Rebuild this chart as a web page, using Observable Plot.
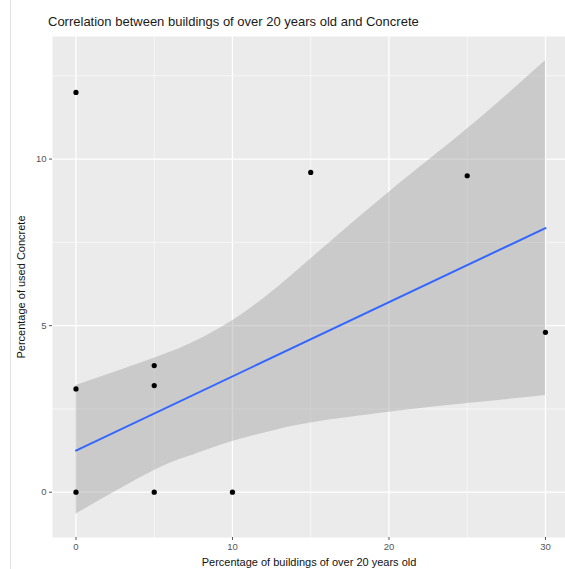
<!DOCTYPE html>
<html><head><meta charset="utf-8">
<script src="https://cdn.jsdelivr.net/npm/d3@7"></script>
<script src="https://cdn.jsdelivr.net/npm/@observablehq/plot@0.6"></script>
<style>
body{margin:0;background:#fff;font-family:"Liberation Sans",Arial,sans-serif;overflow:hidden;}
#wrap{position:relative;width:565px;height:569px;overflow:hidden;}
#title{position:absolute;left:48px;top:14px;font-size:13px;color:#1a1a1a;white-space:nowrap;}
#edge{position:absolute;left:10px;top:0;width:1px;height:569px;background:#e2e2e2;}
#chart{position:absolute;left:0;top:36px;}
</style></head>
<body><div id="wrap"><div id="edge"></div><div id="title">Correlation between buildings of over 20 years old and Concrete</div><div id="chart"></div></div>
<script>
const pointX = [0, 0, 0, 5, 5, 5, 10, 15, 25, 30];
const pointY = [12, 3.1, 0, 3.8, 3.2, 0, 0, 9.6, 9.5, 4.8];
const bandX = [0, 5, 7.5, 10, 12.5, 15, 20, 25, 30];
const bandLow = [-0.66, 0.65, 1.12, 1.52, 1.83, 2.08, 2.4, 2.66, 2.9];
const bandHigh = [3.2, 4.02, 4.5, 5.15, 6.0, 7.0, 9.0, 10.9, 12.95];
const fitX = [0, 30];
const fitY = [1.25, 7.93];
const xTicks = [0, 10, 20, 30];
const yTicks = [0, 5, 10];
const xMinor = [5, 15, 25];
const yMinor = [2.5, 7.5, 12.5];
const xLabel = "Percentage of buildings of over 20 years old";
const yLabel = "Percentage of used Concrete";

const points = pointX.map((x, i) => ({x, y: pointY[i]}));
const band = bandX.map((x, i) => ({x, lo: bandLow[i], hi: bandHigh[i]}));
const fit = fitX.map((x, i) => ({x, y: fitY[i]}));

const chart = Plot.plot({
  width: 565,
  height: 533,
  marginLeft: 52,
  marginRight: 0,
  marginTop: 0,
  marginBottom: 32,
  style: {fontFamily: "Liberation Sans, Arial, sans-serif", background: "transparent"},
  x: {domain: [-1.5, 31.28]},
  y: {domain: [-1.36, 13.68]},
  marks: [
    Plot.frame({fill: "#EBEBEB", stroke: null}),
    Plot.ruleX(xMinor, {stroke: "white", strokeWidth: 0.6}),
    Plot.ruleY(yMinor, {stroke: "white", strokeWidth: 0.6}),
    Plot.ruleX(xTicks, {stroke: "white", strokeWidth: 1.3}),
    Plot.ruleY(yTicks, {stroke: "white", strokeWidth: 1.3}),
    Plot.areaY(band, {x: "x", y1: "lo", y2: "hi", fill: "#999999", fillOpacity: 0.4, curve: "natural"}),
    Plot.line(fit, {x: "x", y: "y", stroke: "#3366FF", strokeWidth: 2}),
    Plot.dot(points, {x: "x", y: "y", r: 2.6, fill: "black", stroke: null}),
    Plot.axisX(xTicks, {tickSize: 3, tickPadding: 3, fontSize: 9.5, color: "#555", label: null, tickFormat: d => String(d)}),
    Plot.axisY(yTicks, {tickSize: 3, tickPadding: 3, fontSize: 9.5, color: "#555", label: null, tickFormat: d => String(d)}),
    Plot.text([xLabel], {frameAnchor: "bottom", dy: 25, fontSize: 11, fill: "#111", textAnchor: "middle", lineAnchor: "middle"}),
    Plot.text([yLabel], {frameAnchor: "left", dx: -31, rotate: -90, fontSize: 11, fill: "#111", textAnchor: "middle", lineAnchor: "middle"})
  ]
});
document.getElementById("chart").appendChild(chart);
</script>
</body></html>
